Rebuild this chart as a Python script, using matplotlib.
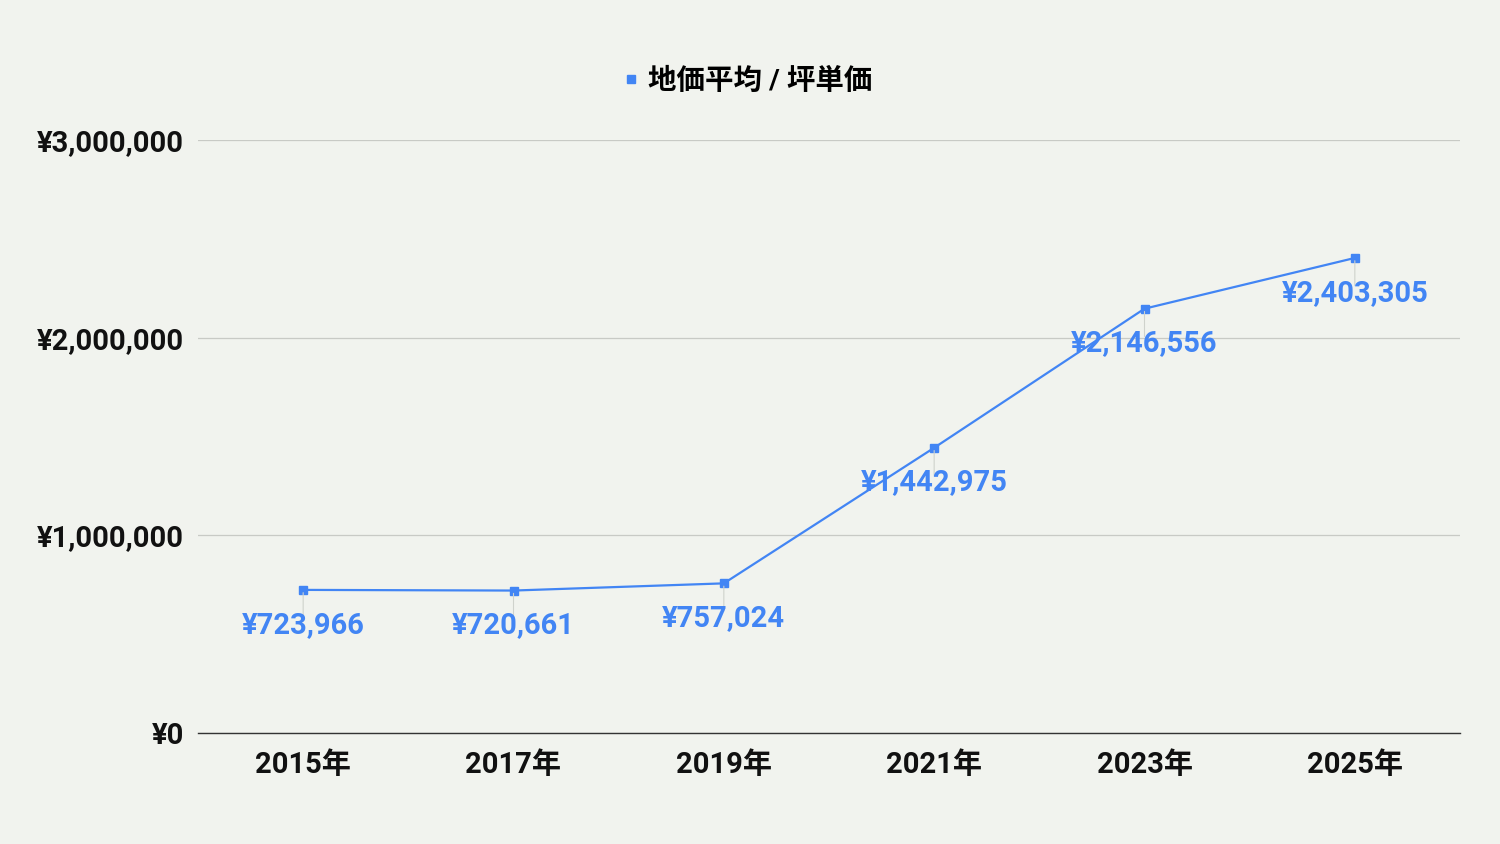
import numpy as np
import matplotlib
matplotlib.use('Agg')
import matplotlib.pyplot as plt

years = ['2015年', '2017年', '2019年', '2021年', '2023年', '2025年']
price = [723966, 720661, 757024, 1442975, 2146556, 2403305]
series_name = '地価平均 / 坪単価'

bg = '#f1f3ee'
blue = '#4285f4'
fonts = ['Roboto', 'Noto Sans CJK JP', 'DejaVu Sans']
plt.rcParams['font.family'] = fonts

fig = plt.figure(figsize=(15, 8.44), dpi=100, facecolor=bg)
ax = fig.add_axes([198/1500, 1 - 733/844, 1262/1500, 593/844], facecolor=bg)

x = np.arange(len(years))
ax.plot(x, price, color=blue, lw=1.6, marker='s', ms=6, label=series_name)

# short leader lines + data labels under each point
for xi, v in zip(x, price):
    ax.annotate('', xy=(xi, v), xytext=(0, -22), textcoords='offset points',
                arrowprops=dict(arrowstyle='-', color='#cfd2cc', lw=0.8))
    ax.annotate('¥{:,}'.format(v), xy=(xi, v), xytext=(0, -25),
                textcoords='offset points', ha='center', va='center',
                fontsize=21, fontweight='bold', color=blue)

ax.set_xlim(-0.5, len(years) - 0.5)
ax.set_ylim(0, 3000000)
ax.set_yticks([0, 1000000, 2000000, 3000000])
ax.set_yticklabels(['¥{:,}'.format(t) for t in ax.get_yticks().astype(int)])
ax.set_xticks(x)
ax.set_xticklabels(years)
ax.tick_params(axis='both', length=0, labelsize=21)
ax.tick_params(axis='y', pad=10)
ax.tick_params(axis='x', pad=13)
for lab in ax.get_xticklabels() + ax.get_yticklabels():
    lab.set_fontweight('bold')
    lab.set_color('#111111')

ax.grid(axis='y', color='#c8cac5', lw=0.9)
ax.set_axisbelow(True)
for s in ['top', 'right', 'left']:
    ax.spines[s].set_visible(False)
ax.spines['bottom'].set_color('#333333')
ax.spines['bottom'].set_linewidth(1.0)
ax.spines['bottom'].set_zorder(3)

leg = fig.legend(handles=[plt.Line2D([], [], color=blue, marker='s', ls='none', ms=6)],
                 labels=[series_name], loc='center', bbox_to_anchor=(746/1500, 1 - 81/844),
                 frameon=False, handletextpad=0.2, handlelength=0.8,
                 prop=dict(family=fonts, size=20.5, weight='bold'))

fig.savefig('out.png', dpi=100, facecolor=bg)
